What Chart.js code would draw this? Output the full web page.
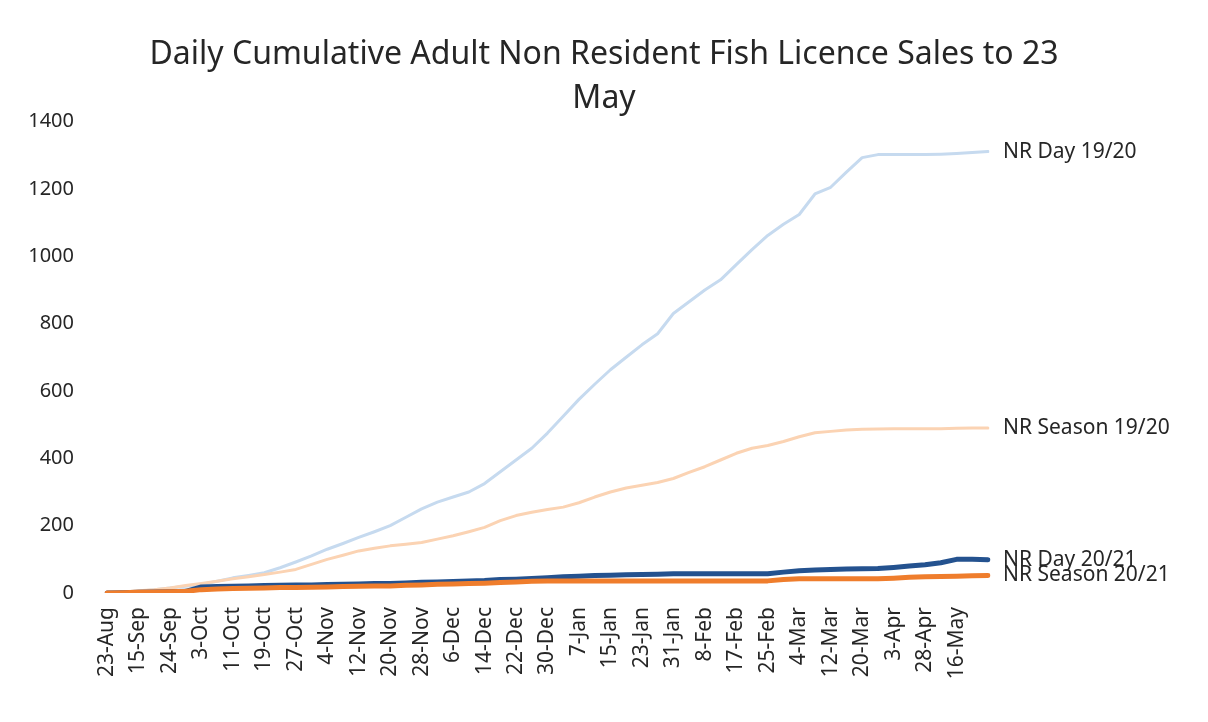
<!DOCTYPE html>
<html>
<head>
<meta charset="utf-8">
<script src="https://cdn.jsdelivr.net/npm/chart.js@4.4.1/dist/chart.umd.min.js"></script>
<style>
    html, body { margin: 0; padding: 0; background: #fff; }
    #wrap { width: 1208px; height: 722px; }
</style>
</head>
<body>
<div id="wrap"><canvas id="chart" width="1208" height="722"></canvas></div>

<script>
    // x positions: one tick label every second point, last points run on to 23 May
    var labels = ['23-Aug', '', '15-Sep', '', '24-Sep', '', '3-Oct', '', '11-Oct', '', '19-Oct', '', '27-Oct', '',
        '4-Nov', '', '12-Nov', '', '20-Nov', '', '28-Nov', '', '6-Dec', '', '14-Dec', '', '22-Dec', '',
        '30-Dec', '', '7-Jan', '', '15-Jan', '', '23-Jan', '', '31-Jan', '', '8-Feb', '', '17-Feb', '',
        '25-Feb', '', '4-Mar', '', '12-Mar', '', '20-Mar', '', '3-Apr', '', '28-Apr', '', '16-May', '', ''];

    var dayNames = ['NR Day 19/20', 'NR Season 19/20', 'NR Day 20/21', 'NR Season 20/21'];

    var day1920 = [0, 2, 5, 10, 15, 20, 25, 35, 45, 52, 60, 75, 92, 110, 130, 147, 165, 182, 200, 225,
        250, 270, 285, 300, 325, 360, 395, 430, 475, 525, 575, 620, 663, 700, 737, 770, 830, 865, 900, 930,
        975, 1020, 1062, 1095, 1124, 1185, 1205, 1250, 1293, 1302, 1302, 1302, 1302, 1303, 1305, 1308, 1311];

    var season1920 = [0, 3, 7, 10, 15, 22, 28, 35, 42, 48, 55, 62, 70, 85, 100, 112, 125, 133, 140, 145,
        150, 160, 170, 182, 195, 215, 230, 240, 248, 255, 268, 285, 300, 312, 320, 328, 340, 358, 375, 395,
        415, 430, 438, 450, 464, 476, 480, 484, 486, 487, 488, 488, 488, 488, 489, 490, 490];

    var day2021 = [0, 1, 2, 3, 4, 5, 18, 19, 20, 21, 22, 23, 24, 24, 25, 26, 27, 28, 28, 30,
        32, 33, 34, 36, 37, 40, 41, 43, 45, 48, 50, 52, 53, 54, 55, 56, 57, 57, 57, 57,
        57, 57, 57, 62, 66, 68, 70, 71, 72, 73, 76, 80, 84, 90, 100, 100, 99];

    var season2021 = [0, 1, 2, 3, 4, 5, 10, 12, 13, 14, 15, 16, 16, 17, 18, 19, 20, 21, 21, 23,
        24, 26, 27, 28, 29, 31, 33, 35, 36, 36, 36, 36, 36, 36, 36, 36, 36, 36, 36, 36,
        36, 36, 36, 40, 42, 42, 42, 42, 42, 42, 44, 47, 48, 49, 50, 51, 52];

    // names at the end of each line
    var endLabels = {
        id: 'endLabels',
        afterDatasetsDraw: function (chart) {
            var ctx = chart.ctx;
            ctx.save();
            ctx.font = '21px "Noto Sans"';
            ctx.fillStyle = '#262626';
            ctx.textBaseline = 'middle';
            chart.data.datasets.forEach(function (ds, i) {
                var pts = chart.getDatasetMeta(i).data;
                var last = pts[pts.length - 1];
                ctx.fillText(ds.label, last.x + 15, last.y);
            });
            ctx.restore();
        }
    };

    var ctx = document.getElementById('chart').getContext('2d');
    var config = {
        type: 'line',
        data: {
            labels: labels,
            datasets: [{
                label: dayNames[0],
                data: day1920,
                borderColor: '#c6daef',
                borderWidth: 3,
                order: 3
            }, {
                label: dayNames[1],
                data: season1920,
                borderColor: '#fbd3b3',
                borderWidth: 3,
                order: 2
            }, {
                label: dayNames[2],
                data: day2021,
                borderColor: '#24528f',
                borderWidth: 5,
                order: 1
            }, {
                label: dayNames[3],
                data: season2021,
                borderColor: '#ef7d2c',
                borderWidth: 5,
                order: 0
            }]
        },
        options: {
            responsive: false,
            animation: false,
            elements: {
                point: { radius: 0 },
                line: { tension: 0, borderCapStyle: 'round', borderJoinStyle: 'round' }
            },
            layout: { padding: 0 },
            plugins: {
                legend: { display: false },
                tooltip: { enabled: false },
                title: {
                    display: true,
                    text: ['Daily Cumulative Adult Non Resident Fish Licence Sales to 23', 'May'],
                    color: '#262626',
                    font: { family: 'Noto Sans', size: 32, weight: 'normal', lineHeight: 1.4 },
                    padding: { top: 32, bottom: 0 }
                }
            },
            scales: {
                x: {
                    grid: { display: false },
                    border: { display: false },
                    ticks: {
                        autoSkip: false,
                        maxRotation: 90,
                        minRotation: 90,
                        padding: 6,
                        color: '#262626',
                        font: { family: 'Noto Sans', size: 21 }
                    },
                    afterFit: function (s) { s.height = 129; }
                },
                y: {
                    min: 0,
                    max: 1400,
                    grid: { display: false },
                    border: { display: false },
                    ticks: {
                        stepSize: 200,
                        padding: 25,
                        color: '#262626',
                        font: { family: 'Noto Sans', size: 20 },
                        callback: function (v) { return String(v); }
                    },
                    afterFit: function (s) { s.width = 107; }
                },
                right: {
                    position: 'right',
                    display: true,
                    grid: { display: false },
                    border: { display: false },
                    ticks: { display: false },
                    afterFit: function (s) { s.width = 220; }
                }
            }
        },
        plugins: [endLabels]
    };

    var chart = new Chart(ctx, config);
</script>
</body>
</html>
